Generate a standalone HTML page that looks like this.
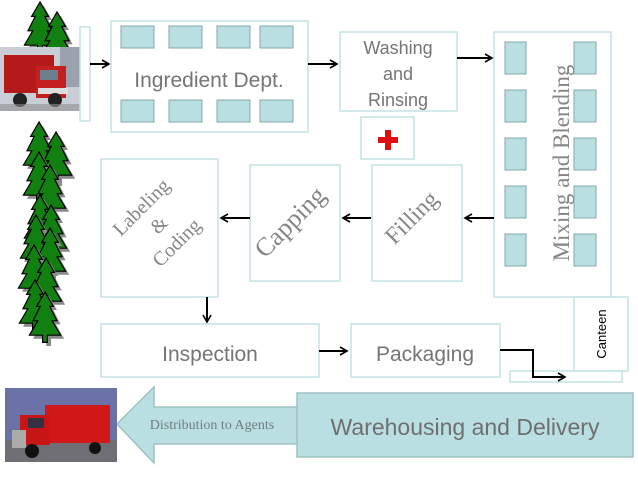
<!DOCTYPE html>
<html><head><meta charset="utf-8"><style>
html,body{margin:0;padding:0;background:#fff;}
svg{display:block;}
.b{fill:#fff;stroke:#c4e2e5;stroke-width:1.5;}
.s{fill:#b9dfe2;stroke:#86a7a9;stroke-width:1;}
.t{font-family:"Liberation Sans",sans-serif;fill:#757575;}
.sf{font-family:"Liberation Serif",serif;fill:#858585;}
.a{stroke:#000;stroke-width:2;fill:none;}
</style></head><body>
<svg width="638" height="479" viewBox="0 0 638 479" xmlns="http://www.w3.org/2000/svg">
<defs>
<g id="tree" transform="scale(1.2)">
<path d="M3,3 L-4,15 L-1,15 L-7,27 L-3,27 L-10,39 L1,39 L1,45 L5,45 L5,39 L16,39 L9,27 L13,27 L7,15 L10,15 Z" fill="#8a8a8a"/>
<path d="M0,0 L-7,12 L-4,12 L-10,24 L-6,24 L-13,36 L-2,36 L-2,42 L2,42 L2,36 L13,36 L6,24 L10,24 L4,12 L7,12 Z" fill="#118011" stroke="#000" stroke-width="1"/>
</g>
<marker id="ah" markerWidth="10" markerHeight="10" refX="8" refY="5" orient="auto" markerUnits="userSpaceOnUse"><path d="M1,1 L8,5 L1,9" fill="none" stroke="#000" stroke-width="1.6"/></marker>
</defs>
<use href="#tree" x="40" y="2"/><use href="#tree" x="57" y="12"/>
<use href="#tree" x="39" y="122"/><use href="#tree" x="56" y="132"/>
<use href="#tree" x="39" y="152"/><use href="#tree" x="50" y="165"/>
<use href="#tree" x="40" y="195"/><use href="#tree" x="51" y="205"/>
<use href="#tree" x="36" y="215"/><use href="#tree" x="50" y="228"/>
<use href="#tree" x="34" y="245"/><use href="#tree" x="46" y="258"/>
<use href="#tree" x="35" y="280"/><use href="#tree" x="45" y="292"/>
<rect x="0" y="47" width="85" height="64" fill="#c9ced6"/>
<rect x="60" y="47" width="25" height="40" fill="#9aa3ad"/>
<rect x="4" y="55" width="50" height="38" fill="#b51a1a"/>
<rect x="36" y="66" width="30" height="32" fill="#c52020"/>
<rect x="40" y="70" width="18" height="10" fill="#6b7f8f"/>
<rect x="38" y="88" width="30" height="6" fill="#ddd"/>
<circle cx="20" cy="100" r="7" fill="#222"/><circle cx="55" cy="100" r="7" fill="#222"/>
<rect x="0" y="104" width="85" height="7" fill="#8e8e8e" opacity=".6"/>
<rect class="b" x="80" y="27" width="10" height="94"/>
<line class="a" x1="90" y1="64" x2="109" y2="64" marker-end="url(#ah)"/>
<rect class="b" x="111" y="21" width="197" height="111"/>
<rect class="s" x="121" y="26" width="33" height="22"/><rect class="s" x="169" y="26" width="33" height="22"/><rect class="s" x="217" y="26" width="33" height="22"/><rect class="s" x="260" y="26" width="33" height="22"/>
<rect class="s" x="121" y="100" width="33" height="22"/><rect class="s" x="169" y="100" width="33" height="22"/><rect class="s" x="217" y="100" width="33" height="22"/><rect class="s" x="260" y="100" width="33" height="22"/>
<text class="t" x="209" y="87" font-size="21" text-anchor="middle">Ingredient Dept.</text>
<line class="a" x1="308" y1="64" x2="337" y2="64" marker-end="url(#ah)"/>
<rect class="b" x="340" y="32" width="117" height="79"/>
<text class="t" x="398" y="54" font-size="18" text-anchor="middle">Washing</text>
<text class="t" x="398" y="80" font-size="18" text-anchor="middle">and</text>
<text class="t" x="398" y="106" font-size="18" text-anchor="middle">Rinsing</text>
<rect class="b" x="361" y="117" width="53" height="42"/>
<rect x="378" y="137" width="20" height="6" fill="#e01010"/><rect x="385" y="130" width="6" height="20" fill="#e01010"/>
<line class="a" x1="457" y1="58" x2="492" y2="58" marker-end="url(#ah)"/>
<rect class="b" x="494" y="32" width="117" height="265"/>
<rect class="s" x="505" y="42" width="21" height="32"/><rect class="s" x="574" y="42" width="22" height="32"/>
<rect class="s" x="505" y="90" width="21" height="32"/><rect class="s" x="574" y="90" width="22" height="32"/>
<rect class="s" x="505" y="138" width="21" height="32"/><rect class="s" x="574" y="138" width="22" height="32"/>
<rect class="s" x="505" y="186" width="21" height="32"/><rect class="s" x="574" y="186" width="22" height="32"/>
<rect class="s" x="505" y="234" width="21" height="32"/><rect class="s" x="574" y="234" width="22" height="32"/>
<text class="sf" transform="translate(569,163) rotate(-90)" font-size="23" text-anchor="middle">Mixing and Blending</text>
<rect class="b" x="372" y="165" width="90" height="116"/>
<text class="sf" transform="translate(417,223) rotate(-45)" font-size="24" text-anchor="middle">Filling</text>
<line class="a" x1="494" y1="218" x2="465" y2="218" marker-end="url(#ah)"/>
<rect class="b" x="250" y="165" width="90" height="116"/>
<text class="sf" transform="translate(296,228) rotate(-45)" font-size="26" text-anchor="middle">Capping</text>
<line class="a" x1="371" y1="218" x2="343" y2="218" marker-end="url(#ah)"/>
<rect class="b" x="101" y="159" width="117" height="138"/>
<g transform="translate(160,226) rotate(-45)">
<text class="sf" x="0" y="-20" font-size="20" text-anchor="middle">Labeling</text>
<text class="sf" x="0" y="5" font-size="20" text-anchor="middle">&amp;</text>
<text class="sf" x="0" y="30" font-size="20" text-anchor="middle">Coding</text>
</g>
<line class="a" x1="250" y1="218" x2="221" y2="218" marker-end="url(#ah)"/>
<line class="a" x1="207" y1="297" x2="207" y2="322" marker-end="url(#ah)"/>
<rect class="b" x="101" y="324" width="218" height="53"/>
<text class="t" x="210" y="361" font-size="21" text-anchor="middle">Inspection</text>
<line class="a" x1="319" y1="351" x2="347" y2="351" marker-end="url(#ah)"/>
<rect class="b" x="351" y="324" width="149" height="53"/>
<text class="t" x="425" y="361" font-size="21" text-anchor="middle">Packaging</text>
<rect class="b" x="510" y="371" width="112" height="11"/>
<rect class="b" x="574" y="297" width="54" height="74"/>
<text transform="translate(606,334) rotate(-90)" font-family="Liberation Sans,sans-serif" font-size="13" text-anchor="middle" fill="#000">Canteen</text>
<polyline class="a" points="500,350 533,350 533,377 565,377" marker-end="url(#ah)"/>
<path d="M117,424 L154,387 L154,407 L298,407 L298,444 L154,444 L154,463 Z" fill="#b9dfe2" stroke="#9fc0c2" stroke-width="1.5"/>
<text x="212" y="429" font-family="Liberation Serif,serif" font-size="14" fill="#6f7f7f" text-anchor="middle">Distribution to Agents</text>
<rect x="297" y="393" width="336" height="64" fill="#b9dfe2" stroke="#9fc0c2" stroke-width="1.5"/>
<text x="465" y="435" font-family="Liberation Sans,sans-serif" font-size="23" text-anchor="middle" fill="#6f6f6f">Warehousing and Delivery</text>
<rect x="5" y="388" width="112" height="74" fill="#6a72a8"/>
<rect x="5" y="440" width="112" height="22" fill="#6e6e74"/>
<rect x="45" y="405" width="65" height="38" fill="#d01818"/>
<rect x="20" y="415" width="30" height="30" fill="#c81515"/>
<rect x="28" y="418" width="16" height="10" fill="#334"/>
<rect x="12" y="430" width="14" height="18" fill="#aaa"/>
<circle cx="32" cy="451" r="7" fill="#111"/><circle cx="95" cy="448" r="6" fill="#111"/>
</svg>
</body></html>
